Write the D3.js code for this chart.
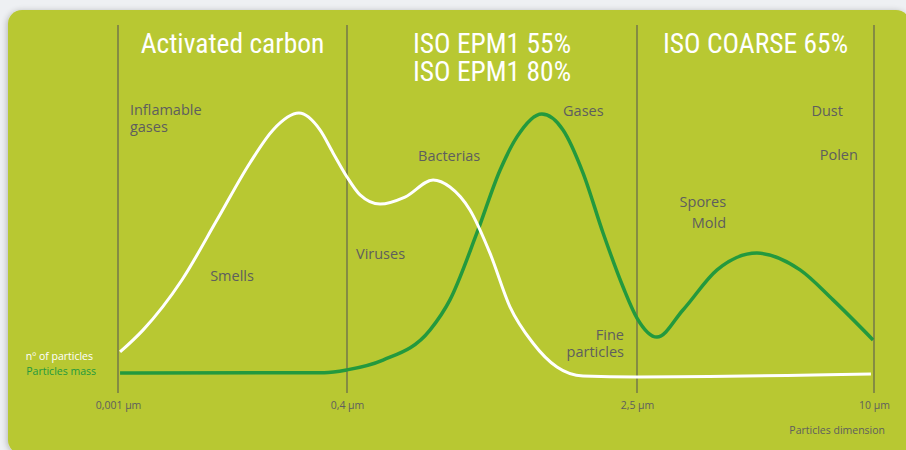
<!DOCTYPE html>
<html>
<head>
<meta charset="utf-8">
<script src="https://cdn.jsdelivr.net/npm/d3@7/dist/d3.min.js"></script>
<style>
html,body{margin:0;padding:0;background:#eef0f3;}
svg{display:block;}
</style>
</head>
<body>
<svg id="chart" width="906" height="450"></svg>
<script>
// Tick positions (index along the particle-size axis) and their labels
const tickIndex = [0, 1, 2, 3];
const tickLabels = ["0,001 µm", "0,4 µm", "2,5 µm", "10 µm"];

// Zone headers
const zoneTitles = [["Activated carbon"], ["ISO EPM1 55%", "ISO EPM1 80%"], ["ISO COARSE 65%"]];

// Number of particles (white curve): [axis index, relative value]
const particlesCount = [
  [0.009, 11.8], [0.109, 19.6], [0.279, 37.5], [0.432, 58.9], [0.576, 79.3],
  [0.677, 91.1], [0.790, 97.1], [0.882, 91.1], [0.939, 82.9], [1.0, 74.3],
  [1.045, 67.9], [1.114, 64.6], [1.2, 67.1], [1.297, 73.2], [1.355, 70.7],
  [1.424, 62.5], [1.493, 47.1], [1.562, 27.9], [1.641, 15.0], [1.724, 6.4],
  [1.814, 3.2], [2.0, 2.9], [2.987, 3.9]
];

// Particles mass (green curve)
const particlesMass = [
  [0.009, 4.3], [0.900, 4.4], [1.0, 5.4], [1.124, 8.9], [1.286, 19.6],
  [1.355, 30.4], [1.448, 54.3], [1.528, 76.8], [1.586, 88.6], [1.672, 96.8],
  [1.745, 91.1], [1.814, 75.7], [1.883, 54.3], [1.952, 35.0], [2.0, 23.9],
  [2.084, 17.1], [2.194, 26.8], [2.338, 41.1], [2.506, 47.1], [2.688, 41.1],
  [2.827, 30.4], [2.996, 16.1]
];

// Annotations: [text lines, axis index, value, anchor]
const annotations = [
  [["Inflamable", "gases"], 0.052, 96.5, "start"],
  [["Smells"], 0.498, 37.0, "middle"],
  [["Viruses"], 1.031, 45.0, "start"],
  [["Bacterias"], 1.245, 80.0, "start"],
  [["Gases"], 1.745, 96.0, "start"],
  [["Fine", "particles"], 1.955, 16.0, "end"],
  [["Spores", "Mold"], 2.376, 63.5, "end"],
  [["Dust"], 2.869, 96.0, "end"],
  [["Polen"], 2.932, 80.5, "end"]
];

const W = 906, H = 450;
const svg = d3.select("#chart");

const x = d3.scaleLinear().domain(tickIndex).range([118, 347, 637, 874]);
const y = d3.scaleLinear().domain([0, 100]).range([385, 105]);

const defs = svg.append("defs");
const f = defs.append("filter").attr("id", "sh").attr("x", "-5%").attr("y", "-5%").attr("width", "110%").attr("height", "110%");
f.append("feGaussianBlur").attr("in", "SourceAlpha").attr("stdDeviation", 3);
f.append("feOffset").attr("dx", -1).attr("dy", 1).attr("result", "b");
f.append("feComponentTransfer").append("feFuncA").attr("type", "linear").attr("slope", 0.25);
const m = f.append("feMerge");
m.append("feMergeNode");
m.append("feMergeNode").attr("in", "SourceGraphic");

svg.append("rect").attr("x", 8).attr("y", 10).attr("width", 902).attr("height", 444)
  .attr("rx", 14).attr("fill", "#b8c832").attr("filter", "url(#sh)");

const textCol = "#5e5e5e";
const labelFont = "'Open Sans', 'Noto Sans', sans-serif";
const titleFont = "'Liberation Sans Narrow', 'Roboto Condensed', 'Open Sans', sans-serif";

// vertical zone lines
svg.append("g").selectAll("line").data(tickIndex).join("line")
  .attr("x1", d => x(d)).attr("x2", d => x(d))
  .attr("y1", 25).attr("y2", 393)
  .attr("stroke", "#5a5a52").attr("stroke-width", 1.1);

// tick labels (axis)
const axis = d3.axisBottom(x).tickValues(tickIndex).tickFormat((d, i) => tickLabels[i]).tickSize(0).tickPadding(0);
const ax = svg.append("g").attr("transform", "translate(0,402)").call(axis);
ax.select(".domain").remove();
ax.selectAll("text").attr("fill", textCol).attr("font-size", 10.5).attr("font-family", labelFont);

svg.append("text").attr("x", 885).attr("y", 434).attr("text-anchor", "end")
  .attr("fill", textCol).attr("font-size", 10.5).attr("font-family", labelFont)
  .text("Particles dimension");

// zone titles
zoneTitles.forEach((lines, i) => {
  const cx = (x(tickIndex[i]) + x(tickIndex[i + 1])) / 2;
  lines.forEach((t, j) => {
    svg.append("text").attr("x", cx).attr("y", 53 + j * 28).attr("text-anchor", "middle")
      .attr("fill", "#ffffff").attr("font-size", 27.5).attr("font-family", titleFont)
      .text(t);
  });
});

// curves
const line = d3.line().x(d => x(d[0])).y(d => y(d[1])).curve(d3.curveMonotoneX);
svg.append("path").datum(particlesMass).attr("d", line)
  .attr("fill", "none").attr("stroke", "#23993e").attr("stroke-width", 3.5);
svg.append("path").datum(particlesCount).attr("d", line)
  .attr("fill", "none").attr("stroke", "#ffffff").attr("stroke-width", 3);

// annotations
annotations.forEach(([lines, xi, v, anchor]) => {
  lines.forEach((t, j) => {
    svg.append("text").attr("x", x(xi)).attr("y", y(v) + j * (lines[0] === "Spores" ? 21 : 17))
      .attr("text-anchor", anchor).attr("fill", textCol)
      .attr("font-size", 14.5).attr("font-family", labelFont).text(t);
  });
});

// legend
svg.append("text").attr("x", 93).attr("y", 360).attr("text-anchor", "end")
  .attr("fill", "#ffffff").attr("font-size", 10.5).attr("font-family", labelFont).text("nº of particles");
svg.append("text").attr("x", 96).attr("y", 375).attr("text-anchor", "end")
  .attr("fill", "#23993e").attr("font-size", 10.5).attr("font-family", labelFont).text("Particles mass");
</script>
</body>
</html>
